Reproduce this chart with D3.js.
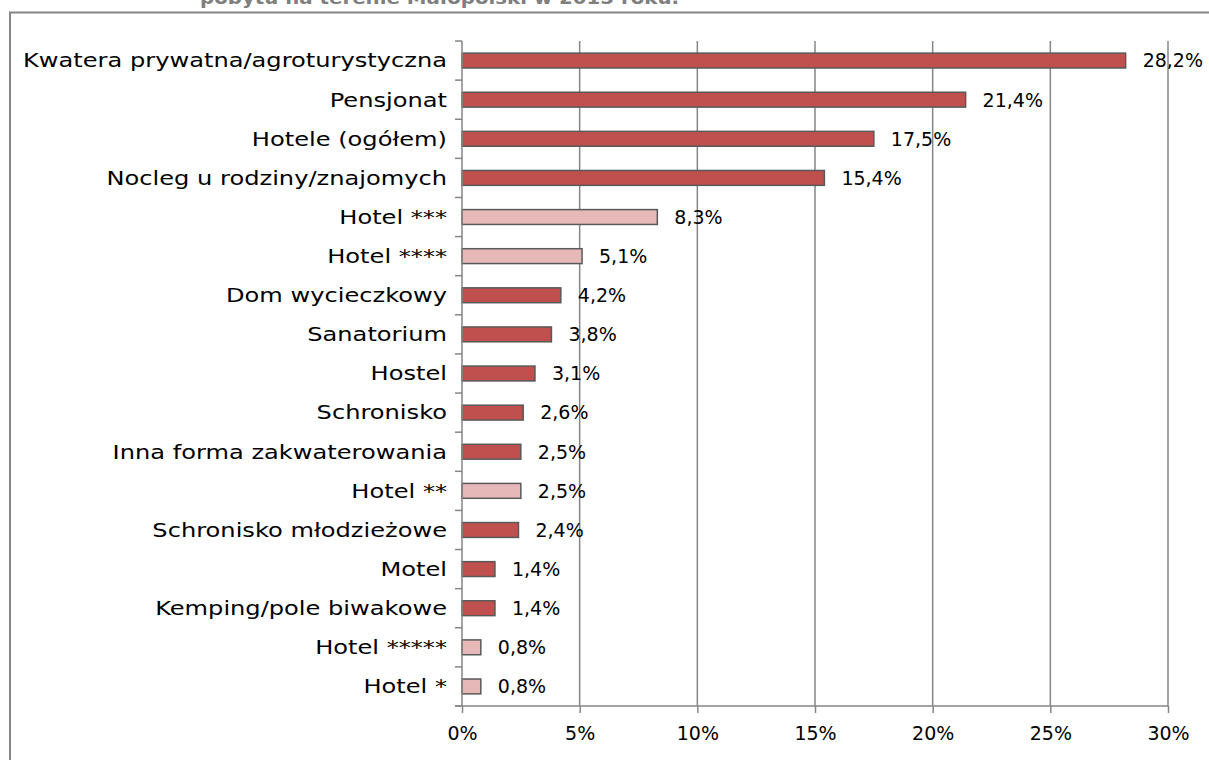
<!DOCTYPE html>
<html>
<head>
<meta charset="utf-8">
<script src="https://cdn.jsdelivr.net/npm/d3@7"></script>
<style>
  body { margin: 0; background: #fff; }
  svg { display: block; }
  text { font-family: "DejaVu Sans", sans-serif; fill: #000; }
</style>
</head>
<body>
<div id="chart"></div>
<script>
const categories = [
  'Kwatera prywatna/agroturystyczna', 'Pensjonat', 'Hotele (ogółem)', 'Nocleg u rodziny/znajomych',
  'Hotel ***', 'Hotel ****', 'Dom wycieczkowy', 'Sanatorium', 'Hostel', 'Schronisko',
  'Inna forma zakwaterowania', 'Hotel **', 'Schronisko młodzieżowe', 'Motel',
  'Kemping/pole biwakowe', 'Hotel *****', 'Hotel *'
];
const values = [28.2, 21.4, 17.5, 15.4, 8.3, 5.1, 4.2, 3.8, 3.1, 2.6, 2.5, 2.5, 2.4, 1.4, 1.4, 0.8, 0.8];
// hotele wg kategorii - jaśniejszy kolor
const isHotelStars = [false, false, false, false, true, true, false, false, false, false, false, true, false, false, false, true, true];
const xTicks = [0, 5, 10, 15, 20, 25, 30];
const title = 'pobytu na terenie Małopolski w 2015 roku.';

const width = 1209;
const height = 760;
const plotLeft = 462, plotRight = 1168, plotTop = 41, plotBottom = 706;
const labelStretch = 1.27; // oryginał ma szerszy krój (Century Gothic)

const svg = d3.select('#chart').append('svg').attr('width', width).attr('height', height);

// ramka + obcięty tytuł
svg.append('text').attr('transform', 'translate(200,4) scale(1.1,1)').style('font-size', '18px').style('font-weight', 'bold').style('fill', '#7f7f7f').text(title);
svg.append('path').attr('d', `M10,${height + 5}V12.5H${width + 5}`).attr('fill', 'none').attr('stroke', '#868686').attr('stroke-width', 2);

const scaleX = d3.scaleLinear().domain([0, 30]).range([plotLeft, plotRight]);
const scaleY = d3.scaleBand().domain(categories).range([plotTop, plotBottom]).paddingInner(0.62).paddingOuter(0.31);

// siatka
svg.append('g').selectAll('line').data(xTicks.filter(d => d > 0)).enter().append('line')
  .attr('x1', d => scaleX(d)).attr('x2', d => scaleX(d)).attr('y1', plotTop).attr('y2', plotBottom)
  .attr('stroke', '#868686').attr('stroke-width', 1.5);

// słupki
svg.append('g').selectAll('rect').data(categories).enter().append('rect')
  .attr('x', scaleX(0)).attr('y', d => scaleY(d))
  .attr('width', (d, i) => scaleX(values[i]) - scaleX(0)).attr('height', scaleY.bandwidth())
  .attr('fill', (d, i) => isHotelStars[i] ? '#e6b9b8' : '#c0504d')
  .attr('stroke', '#595959').attr('stroke-width', 1.5);

// etykiety wartości
svg.append('g').selectAll('text').data(categories).enter().append('text')
  .attr('x', (d, i) => scaleX(values[i]) + 17).attr('y', d => scaleY(d) + scaleY.bandwidth() / 2)
  .attr('dy', '0.36em').style('font-size', '19px')
  .text((d, i) => values[i].toFixed(1).replace('.', ',') + '%');

// oś Y
const band = (plotBottom - plotTop) / categories.length;
const yAxis = svg.append('g');
yAxis.append('line').attr('x1', plotLeft).attr('x2', plotLeft).attr('y1', plotTop).attr('y2', plotBottom).attr('stroke', '#868686').attr('stroke-width', 1.5);
yAxis.selectAll('.tk').data(d3.range(categories.length + 1)).enter().append('line')
  .attr('x1', plotLeft - 7).attr('x2', plotLeft).attr('y1', i => plotTop + i * band).attr('y2', i => plotTop + i * band)
  .attr('stroke', '#868686').attr('stroke-width', 1.5);
yAxis.selectAll('text').data(categories).enter().append('text')
  .attr('transform', d => `translate(447,${scaleY(d) + scaleY.bandwidth() / 2}) scale(${labelStretch},1)`)
  .attr('dy', '0.36em').attr('text-anchor', 'end').style('font-size', '19px').text(d => d);

// oś X
const xAxis = d3.axisBottom(scaleX).tickValues(xTicks).tickFormat(d => d + '%').tickSize(7).tickPadding(14);
const gx = svg.append('g').attr('transform', `translate(0,${plotBottom})`).call(xAxis);
gx.select('.domain').attr('d', `M${plotLeft - 7},0H${plotRight}`).attr('stroke', '#868686').attr('stroke-width', 1.5);
gx.selectAll('.tick line').attr('stroke', '#868686').attr('stroke-width', 1.5);
gx.selectAll('.tick text').style('font-size', '19px').style('font-family', '"DejaVu Sans", sans-serif').attr('fill', '#000');
</script>
</body>
</html>
